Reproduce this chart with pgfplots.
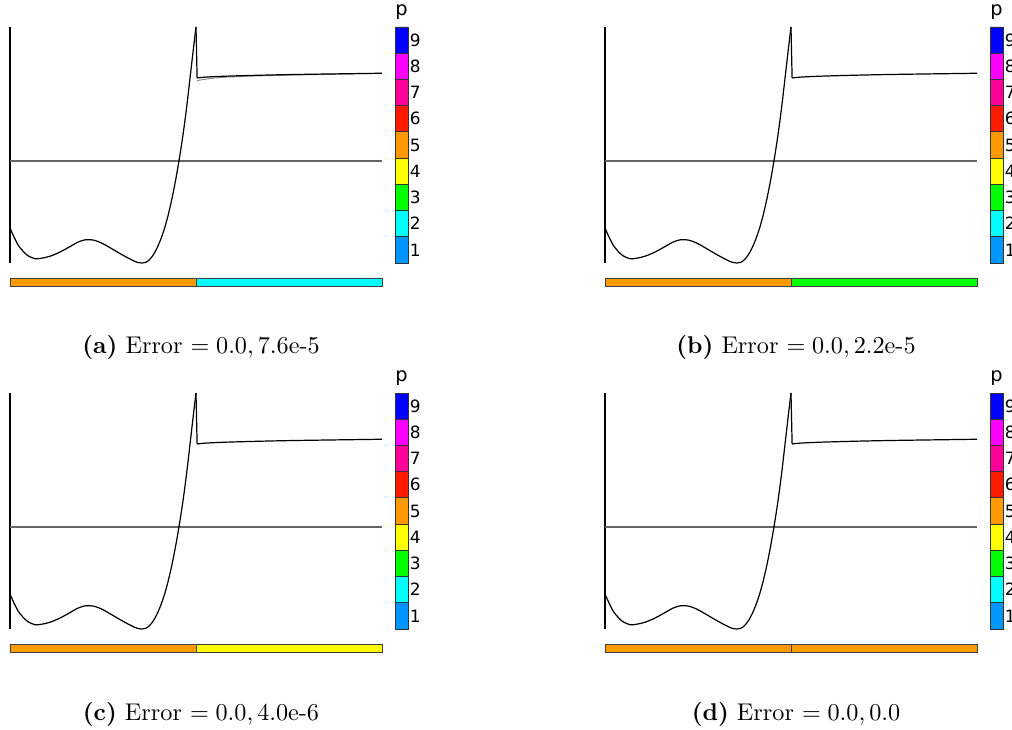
\documentclass[border=0pt]{standalone}
\usepackage{pgfplots}
\pgfplotsset{compat=1.18}
\usepackage{pgfplotstable}
\usepackage{fontspec}
\newfontfamily\dejavu{DejaVu Sans}

% polynomial degree colours
\definecolor{p1}{HTML}{0096FF}
\definecolor{p2}{HTML}{00FFFF}
\definecolor{p3}{HTML}{00FF00}
\definecolor{p4}{HTML}{FFFF00}
\definecolor{p5}{HTML}{FF9900}
\definecolor{p6}{HTML}{FF1A00}
\definecolor{p7}{HTML}{FF0099}
\definecolor{p8}{HTML}{FF00FF}
\definecolor{p9}{HTML}{0000FF}

\newlength\pxu
\setlength\pxu{0.4133pt}

% solution on the left element, up to the peak at x = 0.5
\pgfplotstableread{
x y
0.000 -0.500
0.011 -0.567
0.022 -0.627
0.035 -0.672
0.048 -0.705
0.067 -0.728
0.086 -0.724
0.108 -0.709
0.134 -0.679
0.161 -0.638
0.183 -0.604
0.204 -0.586
0.226 -0.590
0.247 -0.612
0.269 -0.646
0.296 -0.690
0.323 -0.731
0.341 -0.754
0.355 -0.760
0.365 -0.755
0.375 -0.735
0.385 -0.700
0.395 -0.650
0.405 -0.585
0.415 -0.505
0.425 -0.405
0.435 -0.285
0.445 -0.145
0.455 0.015
0.465 0.195
0.475 0.405
0.485 0.645
0.495 0.885
0.500 1.000
}\leftpart

% solution on the right element
\pgfplotstableread{
x y
0.503 0.620
0.530 0.627
0.600 0.635
0.750 0.645
1.000 0.655
}\rightpart

% coarse approximation on the right element
\pgfplotstableread{
x y
0.503 0.600
0.560 0.622
0.700 0.638
1.000 0.655
}\rightapprox

% #1 x offset (px), #2 y offset (px), #3 colour of right element,
% #4 caption, #5 extra plots
\newcommand\panel[5]{%
  % solution
  \begin{axis}[
    at={({(#1+10)*\pxu},{-(#2+27)*\pxu})}, anchor=north west,
    scale only axis, width=372*\pxu, height=236*\pxu,
    xmin=0, xmax=1, ymin=-0.76, ymax=1.0,
    axis x line=none, axis y line=left,
    axis line style={-, black, line width=0.5pt},
    ticks=none, clip=false,
  ]
    \addplot[black!60, line width=0.6pt] coordinates {(0,0) (1,0)};
    #5
    \addplot[black, line width=0.5pt, smooth] table {\leftpart};
    \addplot[black, line width=0.5pt] coordinates {(0.5,1.0) (0.503,0.62)};
    \addplot[black, line width=0.5pt, smooth] table {\rightpart};
  \end{axis}
  % element degrees
  \begin{axis}[
    at={({(#1+10)*\pxu},{-(#2+278)*\pxu})}, anchor=north west,
    scale only axis, width=372*\pxu, height=8*\pxu,
    xmin=0, xmax=1, ymin=0, ymax=1, hide axis, clip=false,
  ]
    \addplot[fill=p5, draw=black!75, line width=0.4pt] coordinates {(0,0) (0.5,0) (0.5,1) (0,1) (0,0)};
    \addplot[fill=#3, draw=black!75, line width=0.4pt] coordinates {(0.5,0) (1,0) (1,1) (0.5,1) (0.5,0)};
  \end{axis}
  % colour key
  \begin{axis}[
    at={({(#1+395)*\pxu},{-(#2+27)*\pxu})}, anchor=north west,
    scale only axis, width=13*\pxu, height=236*\pxu,
    xmin=0, xmax=1, ymin=0.5, ymax=9.5, clip=false,
    axis line style={draw=none},
    xtick=\empty, ytick={1,2,3,4,5,6,7,8,9},
    yticklabels={1,2,3,4,5,6,7,8,9},
    yticklabel pos=right, major tick length=0pt,
    yticklabel style={font=\dejavu\fontsize{7}{8}\selectfont, inner sep=0.6pt},
    title={p},
    every axis title/.style={at={(0,1)}, anchor=base west, yshift=4.8pt,
      inner sep=0pt, font=\dejavu\fontsize{8}{9}\selectfont},
  ]
    \addplot[fill=p1, draw=black!80, line width=0.4pt] coordinates {(0,0.5) (1,0.5) (1,1.5) (0,1.5) (0,0.5)};
    \addplot[fill=p2, draw=black!80, line width=0.4pt] coordinates {(0,1.5) (1,1.5) (1,2.5) (0,2.5) (0,1.5)};
    \addplot[fill=p3, draw=black!80, line width=0.4pt] coordinates {(0,2.5) (1,2.5) (1,3.5) (0,3.5) (0,2.5)};
    \addplot[fill=p4, draw=black!80, line width=0.4pt] coordinates {(0,3.5) (1,3.5) (1,4.5) (0,4.5) (0,3.5)};
    \addplot[fill=p5, draw=black!80, line width=0.4pt] coordinates {(0,4.5) (1,4.5) (1,5.5) (0,5.5) (0,4.5)};
    \addplot[fill=p6, draw=black!80, line width=0.4pt] coordinates {(0,5.5) (1,5.5) (1,6.5) (0,6.5) (0,5.5)};
    \addplot[fill=p7, draw=black!80, line width=0.4pt] coordinates {(0,6.5) (1,6.5) (1,7.5) (0,7.5) (0,6.5)};
    \addplot[fill=p8, draw=black!80, line width=0.4pt] coordinates {(0,7.5) (1,7.5) (1,8.5) (0,8.5) (0,7.5)};
    \addplot[fill=p9, draw=black!80, line width=0.4pt] coordinates {(0,8.5) (1,8.5) (1,9.5) (0,9.5) (0,8.5)};
  \end{axis}
  \node[anchor=base, inner sep=0pt] at ({(#1+201)*\pxu},{-(#2+354)*\pxu}) {#4};
}

\begin{document}
\begin{tikzpicture}
  \useasboundingbox (0,0) rectangle (1012*\pxu,-730*\pxu);
  \panel{0}{0}{p2}{\textbf{(a)}~Error $=0.0, 7.6$e-5}{%
    \addplot[black!45, line width=0.4pt, smooth] table {\rightapprox};}
  \panel{595}{0}{p3}{\textbf{(b)}~Error $=0.0, 2.2$e-5}{}
  \panel{0}{366}{p4}{\textbf{(c)}~Error $=0.0, 4.0$e-6}{}
  \panel{595}{366}{p5}{\textbf{(d)}~Error $=0.0, 0.0$}{}
\end{tikzpicture}
\end{document}
